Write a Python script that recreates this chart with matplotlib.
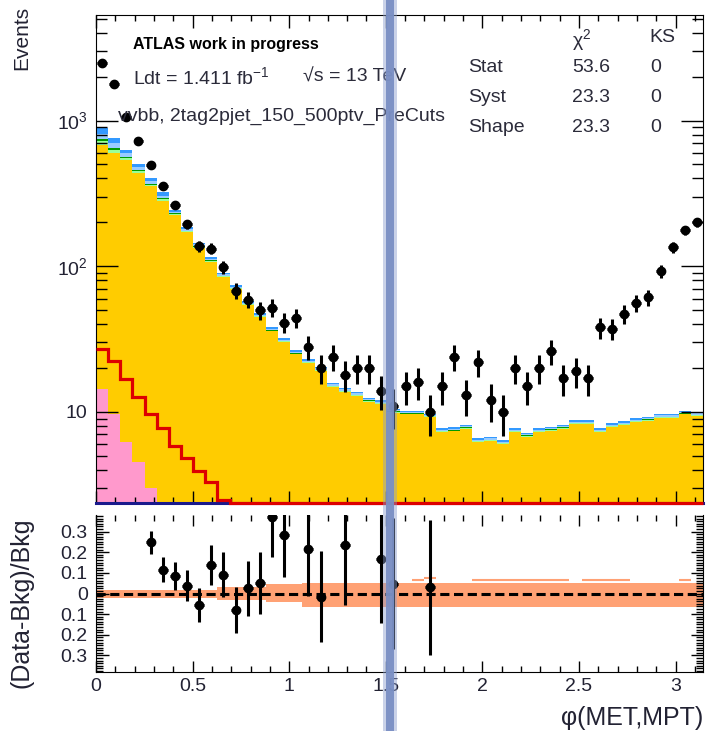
import numpy as np
import matplotlib
matplotlib.use("Agg")
import matplotlib.pyplot as plt
from matplotlib.patches import Rectangle
from matplotlib.ticker import FixedLocator, FixedFormatter, MultipleLocator, NullFormatter

plt.rcParams['font.family'] = ['Liberation Sans', 'DejaVu Sans']
plt.rcParams['mathtext.fontset'] = 'custom'
plt.rcParams['mathtext.rm'] = 'Liberation Sans'
plt.rcParams['mathtext.it'] = 'Liberation Sans:italic'

# 50 bins in phi(MET,MPT) from 0 to pi
n_bins = 50
edges = np.linspace(0, np.pi, n_bins + 1)

# data events per bin
data = [2500, 1795, 1049, 729, 499, 358, 265, 194, 137, 132,
        98, 68, 59, 50, 52, 41, 44, 28, 20, 24,
        18, 20, 20, 14, 11, 15, 16, 10, 15, 24,
        13, 22, 12, 10, 20, 15, 20, 26, 17, 19,
        17, 38, 37, 47, 56, 61, 92, 135, 176, 200]

# backgrounds (stacked, bottom to top)
bkg_pink = [14.4, 9.7, 6.2, 4.5, 3.0, 1.8, 1.2, 0.8, 0.5, 0.3]
bkg_yellow = [660, 587, 526, 431, 350, 278, 222, 170, 133.5, 106.7,
              84.4, 69.5, 54.1, 44.8, 35.7, 30.1, 24.8, 21.6, 19.1, 14.85,
              13.7, 12.9, 11.75, 11.3, 9.88, 9.6, 9.6, 9.2, 7.25, 7.35,
              7.65, 6.2, 6.3, 6.0, 7.25, 6.75, 7.25, 7.45, 7.65, 8.25,
              8.25, 7.25, 7.85, 8.1, 8.5, 8.7, 9.1, 9.1, 9.6, 9.4]
bkg_lgreen = [45, 35, 22, 15, 10, 8, 4.5, 3.5, 2.5, 2.0,
              1.2, 1.0, 0.8, 0.6, 0.5, 0.4, 0.35, 0.3, 0.28, 0.2,
              0.2, 0.18, 0.17, 0.16, 0.14, 0.11, 0.12, 0.11, 0.1, 0.1,
              0.12, 0.09, 0.1, 0.09, 0.11, 0.1, 0.11, 0.1, 0.12, 0.11,
              0.12, 0.1, 0.11, 0.12, 0.11, 0.12, 0.13, 0.12, 0.13, 0.12]
bkg_dgreen = [25, 20, 10, 8, 5, 4, 2.5, 1.5, 1.0, 0.8,
              0.5, 0.4, 0.3, 0.3, 0.2, 0.2, 0.15, 0.15, 0.12, 0.1,
              0.1, 0.08, 0.08, 0.07, 0.06, 0.05, 0.05, 0.06, 0.05, 0.05,
              0.05, 0.04, 0.05, 0.04, 0.05, 0.05, 0.05, 0.05, 0.06, 0.05,
              0.05, 0.05, 0.05, 0.05, 0.05, 0.06, 0.05, 0.06, 0.05, 0.05]
bkg_lblue = [70, 52, 30, 22, 14, 13, 6, 5, 3.5, 2.8,
             1.7, 1.4, 1.1, 0.9, 0.7, 0.6, 0.5, 0.45, 0.38, 0.3,
             0.28, 0.26, 0.23, 0.22, 0.2, 0.16, 0.15, 0.16, 0.14, 0.15,
             0.15, 0.13, 0.14, 0.12, 0.15, 0.14, 0.15, 0.15, 0.16, 0.17,
             0.16, 0.15, 0.16, 0.17, 0.17, 0.18, 0.18, 0.19, 0.2, 0.19]
bkg_blue = [81, 60, 38, 26, 18, 16, 8, 6, 4.0, 3.4,
            2.0, 1.6, 1.2, 1.0, 0.9, 0.7, 0.6, 0.5, 0.42, 0.35,
            0.32, 0.3, 0.27, 0.25, 0.22, 0.18, 0.17, 0.18, 0.16, 0.17,
            0.17, 0.15, 0.16, 0.14, 0.17, 0.16, 0.17, 0.17, 0.18, 0.19,
            0.18, 0.17, 0.18, 0.19, 0.2, 0.2, 0.21, 0.21, 0.22, 0.21]

# overlaid signal (red line), bins beyond this list are below the axis
signal = [27.2, 22.5, 16.7, 12.7, 9.6, 7.7, 5.8, 4.8, 3.9, 3.3, 2.5]

# systematic band in ratio panel (up / down)
band_up = [0.018] * 10 + [0.03] * 4 + [0.045] * 3 + [0.05] * 33
band_dn = [0.02] * 10 + [0.03] * 4 + [0.04] * 3 + [0.065] * 33
band_outer = [np.nan] * 26 + [0.065, 0.075, np.nan, np.nan, np.nan, 0.065, 0.065, 0.065,
                              0.065, 0.065, 0.065, 0.065, 0.065, np.nan, 0.065, 0.065,
                              0.065, 0.065, np.nan, np.nan, np.nan, np.nan, 0.065, np.nan]

table_rows = ['Stat', 'Syst', 'Shape']
chi2_vals = ['53.6', '23.3', '23.3']
ks_vals = ['0', '0', '0']

ymin, ymax = 2.37, 5300
rmin, rmax = -0.38, 0.38

data = np.array(data, dtype=float)
pink = np.pad(np.array(bkg_pink), (0, n_bins - len(bkg_pink)))
layers = [pink, np.array(bkg_yellow), np.array(bkg_lgreen), np.array(bkg_dgreen),
          np.array(bkg_lblue), np.array(bkg_blue)]
colors = ['#ff99cc', '#ffcc00', '#99ff99', '#009a00', '#99ccff', '#3399ff']
cum = np.cumsum(layers, axis=0)
bkg = cum[-1]
centers = 0.5 * (edges[:-1] + edges[1:])
bw = edges[1] - edges[0]

fig = plt.figure(figsize=(7.06, 7.31), dpi=100)
W, H = 706.0, 731.0
ax = fig.add_axes([96 / W, 1 - 503 / H, (703 - 96) / W, (503 - 15) / H])
rax = fig.add_axes([96 / W, 1 - 672 / H, (703 - 96) / W, (672 - 515) / H])

# stack: draw from top layer down so lower ones paint over
for i in range(len(layers) - 1, 0, -1):
    ax.stairs(cum[i], edges, baseline=1e-3, fill=True, color=colors[i], lw=0)
ax.stairs(pink[:len(bkg_pink)], edges[:len(bkg_pink) + 1], baseline=1e-3, fill=True,
          color=colors[0], lw=0)

sig = np.clip(np.pad(np.array(signal), (0, n_bins - len(signal))), ymin, None)
ax.stairs(sig, edges, baseline=None, color='#dd0000', lw=2.3, clip_on=False, zorder=4)

ax.errorbar(centers, data, yerr=np.sqrt(data), xerr=0.4 * bw, fmt='o', color='black',
            ms=6, elinewidth=2.2, capsize=0, zorder=5)

ax.set_yscale('log')
ax.set_xlim(0, np.pi)
ax.set_ylim(ymin, ymax)
ax.yaxis.set_major_locator(FixedLocator([10, 100, 1000]))
ax.yaxis.set_major_formatter(FixedFormatter(['10', '10$^{2}$', '10$^{3}$']))
ax.yaxis.set_minor_locator(FixedLocator([m * 10 ** e for e in range(0, 4) for m in range(2, 10)]))
ax.yaxis.set_minor_formatter(NullFormatter())
ax.xaxis.set_major_locator(MultipleLocator(0.5))
ax.xaxis.set_minor_locator(MultipleLocator(0.1))
ax.tick_params(axis='x', labelbottom=False)
ax.tick_params(which='both', direction='in', top=True, right=True, labelsize=14,
               labelcolor='#222233')
ax.tick_params(axis='y', which='major', length=16, width=1, pad=6)
ax.tick_params(axis='y', which='minor', length=8, width=1)
ax.tick_params(axis='x', which='major', length=9, width=1)
ax.tick_params(axis='x', which='minor', length=4.5, width=1)
ax.spines['bottom'].set_color('#1a1a8c')
ax.spines['bottom'].set_linewidth(2.2)

# ratio panel
rax.stairs(band_up, edges, baseline=-np.array(band_dn), fill=True, color='#ffa174', lw=0)
rax.hlines(band_outer, edges[:-1], edges[1:], color='#ffa174', lw=1.5)
rax.axhline(0, color='black', ls=(0, (3, 1.5)), lw=2.2)
ratio = data / bkg - 1
rerr = np.sqrt(data) / bkg
keep = (ratio > rmin) & (ratio < rmax)
rax.errorbar(centers[keep], ratio[keep], yerr=rerr[keep], xerr=0.4 * bw, fmt='o',
             color='black', ms=6, elinewidth=2.2, capsize=0, zorder=5)
rax.set_xlim(0, np.pi)
rax.set_ylim(rmin, rmax)
rax.yaxis.set_major_locator(FixedLocator([0.3, 0.2, 0.1, 0, -0.1, -0.2, -0.3]))
rax.yaxis.set_major_formatter(FixedFormatter(['0.3', '0.2', '0.1', '0', '0.1', '0.2', '0.3']))
rax.yaxis.set_minor_locator(MultipleLocator(0.0125))
rax.xaxis.set_major_locator(FixedLocator([0, 0.5, 1, 1.5, 2, 2.5, 3]))
rax.xaxis.set_major_formatter(FixedFormatter(['0', '0.5', '1', '1.5', '2', '2.5', '3']))
rax.xaxis.set_minor_locator(MultipleLocator(0.1))
rax.tick_params(which='both', direction='in', top=True, right=True, labelsize=14,
                labelcolor='#222233')
rax.tick_params(axis='y', which='major', length=9, width=1, pad=6)
rax.tick_params(axis='y', which='minor', length=5, width=1)
rax.tick_params(axis='x', which='major', length=8, width=1, pad=4)
rax.tick_params(axis='x', which='minor', length=4, width=1)
rax.spines['top'].set_visible(False)

rax.set_xlabel('\u03c6(MET,MPT)', fontsize=18, loc='right', labelpad=8, color='#222233')
fig.text(22 / W, 1 - 6 / H, 'Events', rotation=90, fontsize=15, ha='center', va='top',
         color='#222233')
fig.text(22 / W, 1 - 603 / H, '(Data-Bkg)/Bkg', rotation=90, fontsize=18, ha='center',
         va='center', color='#222233')

# labels inside the main panel
fig.text(133 / W, 1 - 45 / H, 'ATLAS work in progress', fontsize=11.5, fontweight='bold',
         va='center')
fig.text(133 / W, 1 - 77 / H, 'Ldt = 1.411 fb$^{-1}$', fontsize=14, va='center',
         color='#2b2b3a')
fig.text(303 / W, 1 - 77 / H, '\u221as = 13 TeV', fontsize=14, va='center', color='#2b2b3a')
fig.text(118 / W, 1 - 116 / H, 'vvbb, 2tag2pjet_150_500ptv_PreCuts', fontsize=14,
         va='center', color='#2b2b3a')
fig.text(572 / W, 1 - 40 / H, '\u03c7$^{2}$', fontsize=14, va='center', color='#2b2b3a')
fig.text(649 / W, 1 - 38 / H, 'KS', fontsize=14, va='center', color='#2b2b3a')
for k, name in enumerate(table_rows):
    yy = 1 - (68 + 30 * k) / H
    fig.text(468 / W, yy, name, fontsize=14, va='center', color='#2b2b3a')
    fig.text(572 / W, yy, chi2_vals[k], fontsize=14, va='center', color='#2b2b3a')
    fig.text(650 / W, yy, ks_vals[k], fontsize=14, va='center', color='#2b2b3a')

# the vertical blue bar that crosses the whole picture
fig.patches.append(Rectangle((383 / W, 0), 14 / W, 1, transform=fig.transFigure,
                             color='#8a9dcc', alpha=0.45, lw=0, zorder=10))
fig.patches.append(Rectangle((386 / W, 0), 8 / W, 1, transform=fig.transFigure,
                             color='#7a8fc4', alpha=0.95, lw=0, zorder=11))

fig.savefig('out.png', dpi=100)
